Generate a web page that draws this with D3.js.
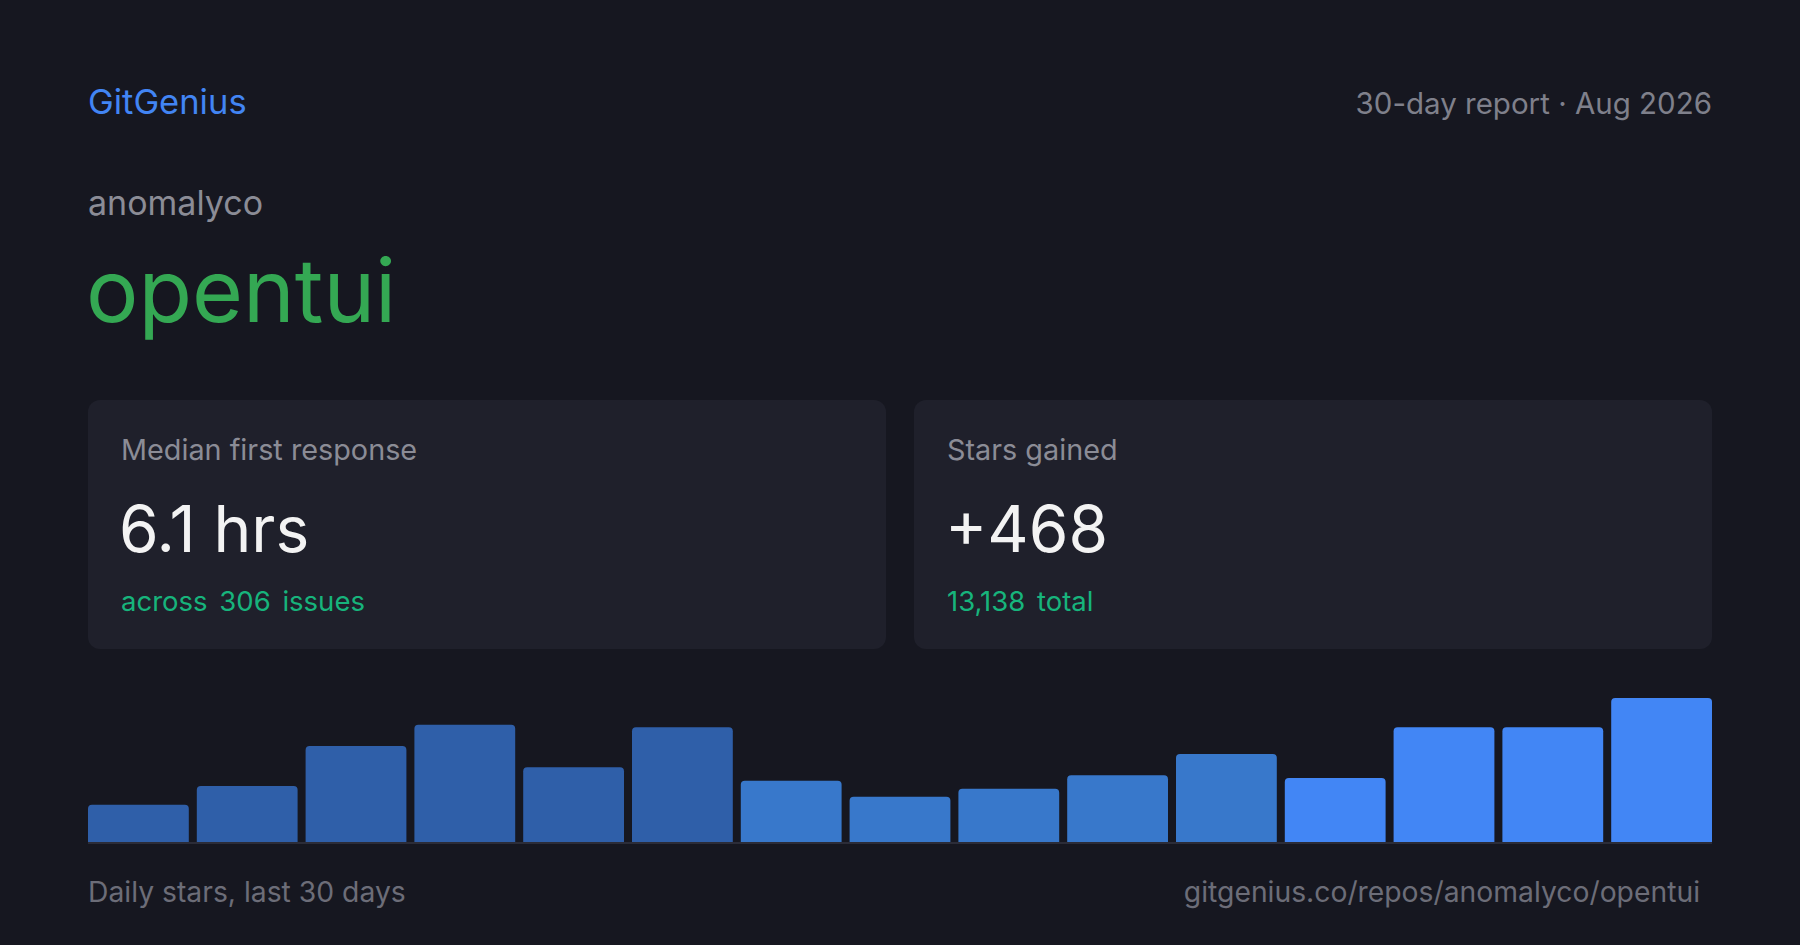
<!DOCTYPE html>
<html>
<head>
<meta charset="utf-8">
<script src="https://cdn.jsdelivr.net/npm/d3@7"></script>
<style>
  html, body { margin: 0; padding: 0; background: #161720; }
  svg { display: block; font-family: Inter, 'Noto Sans', sans-serif; }
</style>
</head>
<body>
<div id="card"></div>
<script>
const brand = 'GitGenius'
const reportLabel = '30-day report · Aug 2026'
const owner = 'anomalyco'
const repo = 'opentui'

const statLabels = ['Median first response', 'Stars gained']
const statValues = ['6.1 hrs', '+468']
const statNotes = ['across 306 issues', '13,138 total']

// stars per bar, oldest first
const dailyStars = [14, 21, 36, 44, 28, 43, 23, 17, 20, 25, 33, 24, 43, 43, 54]
const barPhase = [
  'older', 'older', 'older', 'older', 'older', 'older',
  'recent', 'recent', 'recent', 'recent', 'recent',
  'latest', 'latest', 'latest', 'latest',
]

const chartCaption = 'Daily stars, last 30 days'
const repoUrl = 'gitgenius.co/repos/anomalyco/opentui'

const W = 1800
const H = 945
const left = 88
const right = 1712

const phaseColor = {
  older: '#2f5fa9',
  recent: '#3878cb',
  latest: '#4286f5',
}

const svg = d3.select('#card')
  .append('svg')
  .attr('width', W)
  .attr('height', H)

svg.append('rect')
  .attr('width', W)
  .attr('height', H)
  .style('fill', '#161720')

const addText = (txt, x, y, size, color, anchor = 'start') => {
  return svg.append('text')
    .attr('x', x)
    .attr('y', y)
    .attr('text-anchor', anchor)
    .style('font-size', size + 'px')
    .style('fill', color)
    .text(txt)
}

// header
addText(brand, left, 114, 34.5, '#4285f4')
addText(reportLabel, right, 114, 29.5, '#7f808b', 'end')
addText(owner, left, 215, 34, '#8b8c96')
addText(repo, left - 2, 322, 87.5, '#34a853')

// stat cards
const cardX = d3.scaleBand()
  .domain(d3.range(statLabels.length))
  .range([left, right])
  .paddingInner(28 / ((right - left + 28) / 2))

const cards = svg.selectAll('.stat')
  .data(statLabels.map((label, i) => ({ label, value: statValues[i], note: statNotes[i] })))
  .enter()
  .append('g')
  .attr('class', 'stat')
  .attr('transform', (d, i) => `translate(${cardX(i)},400)`)

cards.append('rect')
  .attr('width', cardX.bandwidth())
  .attr('height', 249)
  .attr('rx', 12)
  .style('fill', '#1f202b')

cards.append('text')
  .attr('x', 33)
  .attr('y', 60)
  .style('font-size', '28.8px')
  .style('fill', '#8b8c96')
  .text((d) => d.label)

cards.append('text')
  .attr('x', 31)
  .attr('y', 152)
  .style('font-size', '64px')
  .style('fill', '#f3f3f3')
  .text((d) => d.value)

cards.append('text')
  .attr('x', 33)
  .attr('y', 211)
  .style('font-size', '27.5px')
  .style('word-spacing', '4px')
  .style('fill', '#17b47c')
  .text((d) => d.note)

// daily stars bars
const base = 842
const x = d3.scaleBand()
  .domain(d3.range(dailyStars.length))
  .range([left, right])
  .paddingInner(0.0735)

const y = d3.scaleLinear()
  .domain([0, d3.max(dailyStars)])
  .range([base, base - 144])

const topRounded = (bx, by, bw, bh, r) => {
  const p = d3.path()
  p.moveTo(bx, by + bh)
  p.lineTo(bx, by + r)
  p.arcTo(bx, by, bx + r, by, r)
  p.lineTo(bx + bw - r, by)
  p.arcTo(bx + bw, by, bx + bw, by + r, r)
  p.lineTo(bx + bw, by + bh)
  p.closePath()
  return p.toString()
}

svg.append('g')
  .selectAll('path')
  .data(dailyStars)
  .enter()
  .append('path')
  .attr('d', (d, i) => topRounded(x(i), y(d), x.bandwidth(), base - y(d), 4))
  .style('fill', (d, i) => phaseColor[barPhase[i]])

svg.append('rect')
  .attr('x', left)
  .attr('y', base)
  .attr('width', right - left)
  .attr('height', 2)
  .style('fill', '#2b2c38')

// footer
addText(chartCaption, left, 902, 28.3, '#6c6d78')
addText(repoUrl, right - 12, 902, 28.3, '#6c6d78', 'end')
</script>
</body>
</html>
